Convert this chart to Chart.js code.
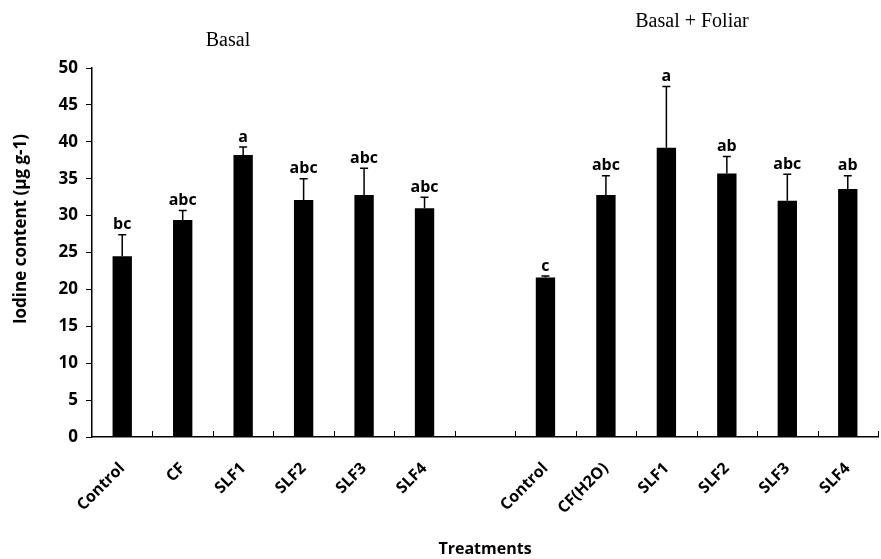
<!DOCTYPE html>
<html>
<head>
<meta charset="utf-8">
<script src="https://cdn.jsdelivr.net/npm/chart.js@4"></script>
<style>
  html, body { margin: 0; padding: 0; background: #fff; }
  #wrap { width: 881px; height: 559px; position: relative; }
</style>
</head>
<body>
<div id="wrap"><canvas id="chart"></canvas></div>
<script>
// treatments, with an empty slot between the two groups
const categories = ['Control', 'CF', 'SLF1', 'SLF2', 'SLF3', 'SLF4', '',
  'Control', 'CF(H2O)', 'SLF1', 'SLF2', 'SLF3', 'SLF4'];
const iodine = [24.5, 29.4, 38.2, 32.1, 32.8, 31.0, null,
  21.6, 32.8, 39.2, 35.7, 32.0, 33.6];
const errorTop = [27.4, 30.7, 39.3, 35.0, 36.4, 32.5, null,
  21.8, 35.4, 47.5, 38.0, 35.6, 35.4];
const letters = ['bc', 'abc', 'a', 'abc', 'abc', 'abc', '',
  'c', 'abc', 'a', 'ab', 'abc', 'ab'];
const yTicks = [0, 5, 10, 15, 20, 25, 30, 35, 40, 45, 50];

const boldFont = '"Open Sans", "DejaVu Sans", sans-serif';

// error bars, significance letters, inward x ticks and titles
const extras = {
  id: 'extras',
  afterDatasetsDraw(chart) {
    const ctx = chart.ctx;
    const y = chart.scales.y;
    const x = chart.scales.x;
    const bars = chart.getDatasetMeta(0).data;
    ctx.save();
    ctx.strokeStyle = '#000';
    ctx.lineWidth = 1.5;
    bars.forEach((bar, i) => {
      if (iodine[i] == null) return;
      const top = y.getPixelForValue(errorTop[i]);
      ctx.beginPath();
      ctx.moveTo(bar.x, bar.y);
      ctx.lineTo(bar.x, top);
      ctx.moveTo(bar.x - 4, top);
      ctx.lineTo(bar.x + 4, top);
      ctx.stroke();
      ctx.fillStyle = '#000';
      ctx.font = 'bold 16px ' + boldFont;
      ctx.textAlign = 'center';
      ctx.textBaseline = 'bottom';
      ctx.fillText(letters[i], bar.x, top - 2);
    });
    // x tick marks at category boundaries, pointing up
    const step = (x.right - x.left) / categories.length;
    ctx.lineWidth = 1;
    for (let i = 1; i <= categories.length; i++) {
      const px = Math.round(x.left + step * i) + 0.5;
      ctx.beginPath();
      ctx.moveTo(px, y.bottom);
      ctx.lineTo(px, y.bottom - 6);
      ctx.stroke();
    }
    // y axis title
    ctx.fillStyle = '#000';
    ctx.save();
    ctx.translate(21, 229);
    ctx.rotate(-Math.PI / 2);
    ctx.font = 'bold 17px ' + boldFont;
    ctx.textAlign = 'center';
    ctx.textBaseline = 'middle';
    ctx.fillText('Iodine content (µg g-1)', 0, 0);
    ctx.restore();
    // group titles
    ctx.font = '20px "Liberation Serif", "Times New Roman", serif';
    ctx.textAlign = 'center';
    ctx.textBaseline = 'middle';
    ctx.fillText('Basal', 228, 41);
    ctx.fillText('Basal + Foliar', 692, 22);
    ctx.restore();
  }
};

new Chart(document.getElementById('chart'), {
  type: 'bar',
  data: {
    labels: categories,
    datasets: [{
      data: iodine,
      backgroundColor: '#000',
      borderWidth: 0,
      barPercentage: 0.32,
      categoryPercentage: 1.0
    }]
  },
  options: {
    responsive: true,
    maintainAspectRatio: false,
    animation: false,
    layout: { padding: { top: 68, right: 3, left: 8, bottom: 0 } },
    plugins: {
      legend: { display: false },
      tooltip: { enabled: false }
    },
    scales: {
      x: {
        afterFit(scale) { scale.height = 122; },
        grid: { display: false, offset: true },
        border: { color: '#000', width: 1.5 },
        ticks: {
          color: '#000',
          autoSkip: false,
          minRotation: 45,
          maxRotation: 45,
          padding: 14,
          font: { family: boldFont, size: 16, weight: 'bold' }
        },
        title: {
          display: true,
          text: 'Treatments',
          color: '#000',
          padding: { top: 0, bottom: 0 },
          font: { family: boldFont, size: 16, weight: 'bold' }
        }
      },
      y: {
        min: 0,
        max: 50,
        afterBuildTicks(scale) {
          scale.ticks = yTicks.map(v => ({ value: v }));
        },
        afterFit(scale) { scale.width = 84; },
        grid: {
          drawOnChartArea: false,
          drawTicks: true,
          tickLength: 6,
          color: '#000'
        },
        border: { color: '#000', width: 1.5 },
        ticks: {
          color: '#000',
          padding: 8,
          font: { family: boldFont, size: 17, weight: 'bold' }
        }
      }
    }
  },
  plugins: [extras]
});
</script>
</body>
</html>
